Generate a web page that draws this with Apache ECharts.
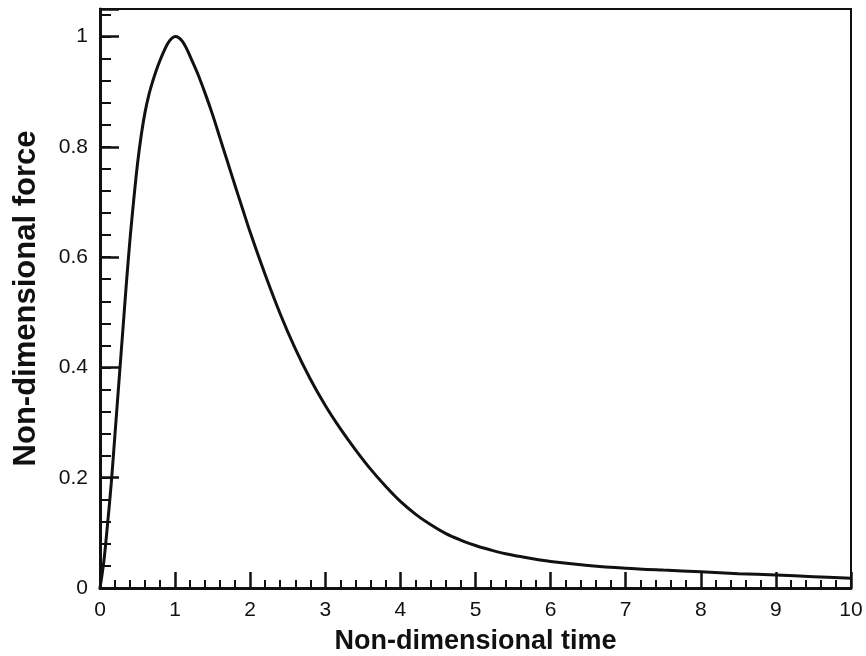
<!DOCTYPE html>
<html>
<head>
<meta charset="utf-8">
<script src="https://cdn.jsdelivr.net/npm/echarts@6/dist/echarts.min.js"></script>
<style>
  html, body { margin: 0; padding: 0; background: #fff; }
  #chart { width: 866px; height: 656px; }
</style>
</head>
<body>
<div id="chart"></div>
<script>
  // values
  var times = [0, 0.05, 0.1, 0.15, 0.2, 0.25, 0.3, 0.35, 0.4, 0.45, 0.5, 0.55, 0.6, 0.65, 0.7, 0.75,
    0.8, 0.85, 0.9, 0.95, 1.0, 1.05, 1.1, 1.15, 1.2, 1.3, 1.4, 1.5, 1.6, 1.7, 1.8, 1.9, 2.0,
    2.2, 2.4, 2.6, 2.8, 3.0, 3.2, 3.4, 3.6, 3.8, 4.0, 4.2, 4.4, 4.6, 4.8, 5.0, 5.2, 5.4, 5.6,
    5.8, 6.0, 6.5, 7.0, 7.5, 8.0, 8.5, 9.0, 9.5, 10];
  var force = [0, 0.047, 0.115, 0.19, 0.28, 0.37, 0.46, 0.55, 0.633, 0.705, 0.77, 0.822, 0.863, 0.894, 0.918, 0.939,
    0.957, 0.973, 0.987, 0.996, 1.0, 0.998, 0.991, 0.979, 0.964, 0.933, 0.897, 0.858, 0.815, 0.772, 0.729, 0.687, 0.645,
    0.568, 0.497, 0.434, 0.379, 0.331, 0.289, 0.251, 0.216, 0.185, 0.157, 0.134, 0.115, 0.099, 0.087, 0.077, 0.069, 0.062, 0.057,
    0.052, 0.048, 0.041, 0.036, 0.0325, 0.0295, 0.026, 0.0235, 0.0205, 0.0175];
  var xTicks = [0, 1, 2, 3, 4, 5, 6, 7, 8, 9, 10];
  var yTicks = [0, 0.2, 0.4, 0.6, 0.8, 1];

  var points = [];
  for (var i = 0; i < times.length; i++) {
    points.push([times[i], force[i]]);
  }

  var txt = '#111';
  var font = "'Liberation Sans', Arial, Helvetica, sans-serif";

  var option = {
    animation: false,
    grid: {
      left: 100, right: 15, top: 9, bottom: 68,
      outerBoundsMode: 'none',
      show: true, borderColor: '#111', borderWidth: 2
    },
    xAxis: {
      type: 'value',
      min: 0, max: 10, interval: 1,
      name: 'Non-dimensional time',
      nameLocation: 'middle',
      nameGap: 40,
      nameTextStyle: { fontFamily: font, fontWeight: 'bold', fontSize: 27, color: txt },
      axisLine: { lineStyle: { color: '#111', width: 3 } },
      axisTick: { inside: true, length: 16, lineStyle: { color: '#111', width: 2.5 } },
      minorTick: { show: true, splitNumber: 5, length: 8, lineStyle: { color: '#111', width: 2 } },
      splitLine: { show: false },
      axisLabel: {
        margin: 12, fontFamily: font, fontSize: 21, color: txt,
        formatter: function (v) { return xTicks.indexOf(v) >= 0 ? String(v) : ''; }
      }
    },
    yAxis: [{
      type: 'value',
      min: 0, max: 1.05, interval: 0.2,
      name: 'Non-dimensional force',
      nameLocation: 'middle',
      nameGap: 58,
      nameTextStyle: { fontFamily: font, fontWeight: 'bold', fontSize: 31, color: txt },
      axisLine: { lineStyle: { color: '#111', width: 3 } },
      axisTick: { inside: true, length: 19, lineStyle: { color: '#111', width: 2.5 } },
      splitLine: { show: false },
      axisLabel: {
        margin: 12, fontFamily: font, fontSize: 21, color: txt,
        formatter: function (v) {
          for (var k = 0; k < yTicks.length; k++) {
            if (Math.abs(v - yTicks[k]) < 1e-6) return String(yTicks[k]);
          }
          return '';
        }
      }
    }, {
      // short ticks every 0.04
      type: 'value',
      position: 'left',
      min: 0, max: 1.05, interval: 0.04,
      axisLine: { show: false },
      axisTick: { inside: true, length: 11, lineStyle: { color: '#111', width: 2 } },
      axisLabel: { show: false },
      splitLine: { show: false }
    }],
    series: [{
      type: 'line',
      data: points,
      smooth: 0.35,
      showSymbol: false,
      lineStyle: { color: '#111', width: 3 }
    }]
  };

  var chart = echarts.init(document.getElementById('chart'));
  chart.setOption(option);
</script>
</body>
</html>
